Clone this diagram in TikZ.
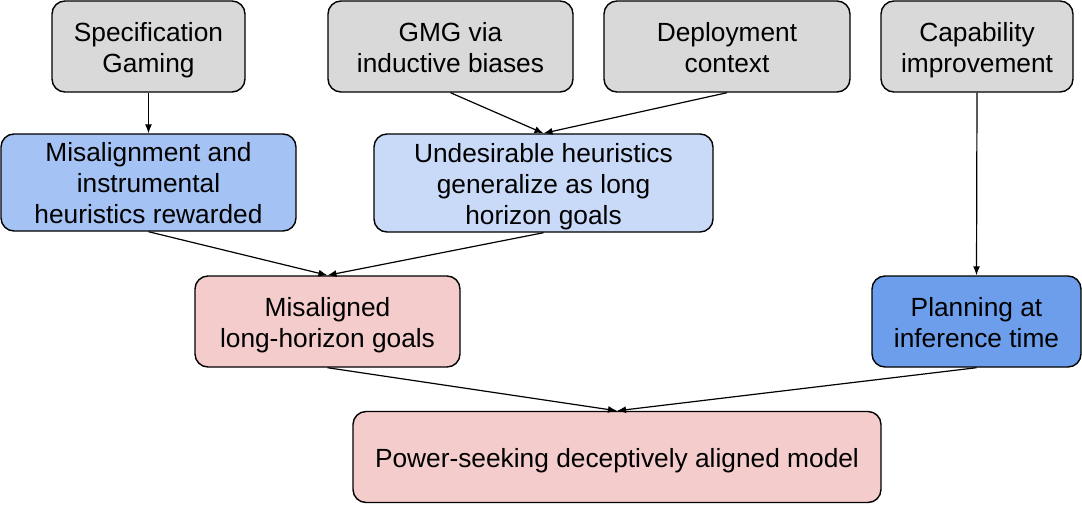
\documentclass[tikz,border=0pt]{standalone}
\usepackage{fontspec}
\setmainfont{Liberation Sans}
\usetikzlibrary{arrows.meta}
\definecolor{grayfill}{HTML}{D9D9D9}
\definecolor{bluemid}{HTML}{A4C2F4}
\definecolor{bluelight}{HTML}{C9DAF8}
\definecolor{bluedark}{HTML}{6D9EEB}
\definecolor{pinkfill}{HTML}{F4CCCC}
\newcommand\lnst{\rule[-5.5pt]{0pt}{31pt}}
\tikzset{
  box/.style={draw=black, line width=1.4pt, rounded corners=13pt, align=center,
    inner sep=0pt, font=\fontsize{26.3}{31}\selectfont, text=black},
  conn/.style={draw=black, line width=1.2pt, -{Latex[length=9pt,width=7pt]}}
}
\begin{document}
\begin{tikzpicture}[x=1pt,y=-1pt]
\useasboundingbox (0,0) rectangle (1082,504);
\node[box, fill=grayfill, minimum width=193pt, minimum height=91pt] (sg) at (148.5,46.5) {\lnst Specification\\ \lnst Gaming};
\node[box, fill=grayfill, minimum width=245pt, minimum height=91pt] (gmg) at (450.5,46.5) {\lnst GMG via\\ \lnst inductive biases};
\node[box, fill=grayfill, minimum width=246pt, minimum height=91pt] (dep) at (727,46.5) {\lnst Deployment\\ \lnst context};
\node[box, fill=grayfill, minimum width=192pt, minimum height=91pt] (cap) at (977,46.5) {\lnst Capability\\ \lnst improvement};
\node[box, fill=bluemid, minimum width=295pt, minimum height=97pt] (mis) at (148.5,182.5) {\lnst Misalignment and\\ \lnst instrumental\\ \lnst heuristics rewarded};
\node[box, fill=bluelight, minimum width=339pt, minimum height=98pt] (und) at (543.5,183) {\lnst Undesirable heuristics\\ \lnst generalize as long\\ \lnst horizon goals};
\node[box, fill=pinkfill, minimum width=265pt, minimum height=91pt] (mlg) at (327.5,321.5) {\lnst Misaligned\\ \lnst long-horizon goals};
\node[box, fill=bluedark, minimum width=209pt, minimum height=91pt] (plan) at (976.5,321.5) {\lnst Planning at\\ \lnst inference time};
\node[box, fill=pinkfill, minimum width=528pt, minimum height=91pt] (pow) at (617,457) {\lnst Power-seeking deceptively aligned model};
\draw[conn] (sg.south) -- (mis.north);
\draw[conn] (gmg.south) -- (und.north);
\draw[conn] (dep.south) -- (und.north);
\draw[conn] (cap.south) -- (plan.north);
\draw[conn] (mis.south) -- (mlg.north);
\draw[conn] (und.south) -- (mlg.north);
\draw[conn] (mlg.south) -- (pow.north);
\draw[conn] (plan.south) -- (pow.north);
\end{tikzpicture}
\end{document}
